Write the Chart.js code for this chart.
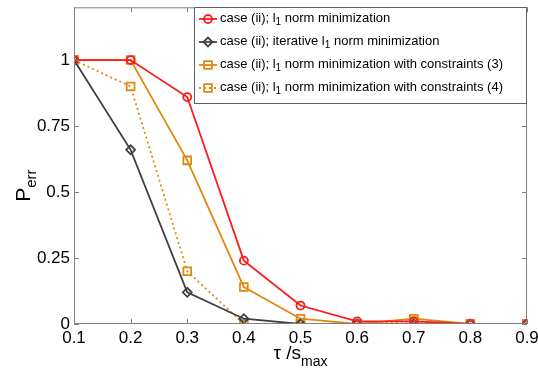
<!DOCTYPE html>
<html>
<head>
<meta charset="utf-8">
<script src="https://cdn.jsdelivr.net/npm/chart.js@4"></script>
<style>
  html, body { margin: 0; padding: 0; background: #fff; }
  #wrap { width: 538px; height: 368px; }
</style>
</head>
<body>
<div id="wrap"><canvas id="chart" width="538" height="368"></canvas></div>
<script>
// x values (tau / s_max)
const tauValues = [0.1, 0.2, 0.3, 0.4, 0.5, 0.6, 0.7, 0.8, 0.9];
const xTicks = [0.1, 0.2, 0.3, 0.4, 0.5, 0.6, 0.7, 0.8, 0.9];
const yTicks = [0, 0.25, 0.5, 0.75, 1];

// P_err for each method
const l1Norm = [1, 1, 0.86, 0.24, 0.07, 0.01, 0.01, 0, 0];
const iterativeL1 = [1, 0.66, 0.12, 0.02, 0, 0, 0, 0, 0];
const l1Constraints3 = [1, 1, 0.62, 0.14, 0.02, 0, 0.02, 0, 0];
const l1Constraints4 = [1, 0.9, 0.2, 0, 0, 0, 0.01, 0, 0];

// legend text pieces: [text, isSubscript]
const legendNames = [
    [['case (ii); l', false], ['1', true], [' norm minimization', false]],
    [['case (ii); iterative l', false], ['1', true], [' norm minimization', false]],
    [['case (ii); l', false], ['1', true], [' norm minimization with constraints (3)', false]],
    [['case (ii); l', false], ['1', true], [' norm minimization with constraints (4)', false]]
];

const RED = '#ff1a1a';
const DARK = '#404040';
const ORANGE = '#e0880f';
const FONT = '"Liberation Sans", Arial, sans-serif';

function toPoints(vals) {
    return vals.map((v, i) => ({ x: tauValues[i], y: v }));
}

function series(vals, color, style, radius, dash) {
    return {
        data: toPoints(vals),
        borderColor: color,
        backgroundColor: 'rgba(0,0,0,0)',
        borderWidth: 1.8,
        borderDash: dash || [],
        pointStyle: style,
        pointRadius: radius,
        pointBorderColor: color,
        pointBackgroundColor: 'rgba(0,0,0,0)',
        pointBorderWidth: 1.8,
        tension: 0
    };
}

const datasets = [
    series(l1Norm, RED, 'circle', 4),
    series(iterativeL1, DARK, 'rectRot', 4.5),
    series(l1Constraints3, ORANGE, 'rect', 5.5),
    series(l1Constraints4, ORANGE, 'rect', 5.5, [2, 3])
];

// draw text with a subscript part
function drawRich(ctx, parts, x, y, size, subSize) {
    let cx = x;
    parts.forEach(([txt, sub]) => {
        ctx.font = (sub ? subSize : size) + 'px ' + FONT;
        ctx.fillText(txt, cx, sub ? y + size * 0.35 : y);
        cx += ctx.measureText(txt).width;
    });
    return cx - x;
}

const framePlugin = {
    id: 'frame',
    afterDraw(chart) {
        const ctx = chart.ctx;
        const a = chart.chartArea;
        const xs = chart.scales.x, ys = chart.scales.y;
        ctx.save();
        ctx.strokeStyle = '#808080';
        ctx.lineWidth = 1;
        ctx.strokeRect(a.left + 0.5, a.top + 0.5, a.right - a.left - 1, a.bottom - a.top - 1);
        ctx.beginPath();
        xTicks.forEach(t => {
            const px = Math.round(xs.getPixelForValue(t)) + 0.5;
            ctx.moveTo(px, a.bottom); ctx.lineTo(px, a.bottom - 5);
            ctx.moveTo(px, a.top); ctx.lineTo(px, a.top + 5);
        });
        yTicks.forEach(t => {
            const py = Math.round(ys.getPixelForValue(t)) + 0.5;
            ctx.moveTo(a.left, py); ctx.lineTo(a.left + 5, py);
            ctx.moveTo(a.right, py); ctx.lineTo(a.right - 5, py);
        });
        ctx.stroke();

        // legend box
        const lx = 194, ly = 7, lw = 332, lh = 96;
        ctx.fillStyle = '#fff';
        ctx.fillRect(lx, ly, lw, lh);
        ctx.strokeStyle = '#606060';
        ctx.strokeRect(lx + 0.5, ly + 0.5, lw, lh);
        const rowY = [19, 42, 65, 88];
        datasets.forEach((ds, i) => {
            const y = rowY[i];
            ctx.save();
            ctx.strokeStyle = ds.borderColor;
            ctx.fillStyle = 'rgba(0,0,0,0)';
            ctx.lineWidth = ds.borderWidth;
            ctx.setLineDash(ds.borderDash);
            ctx.beginPath();
            ctx.moveTo(199, y); ctx.lineTo(217, y);
            ctx.stroke();
            ctx.setLineDash([]);
            Chart.helpers.drawPoint(ctx, {
                pointStyle: ds.pointStyle, radius: ds.pointRadius,
                borderWidth: ds.pointBorderWidth, rotation: 0
            }, 208, y);
            ctx.restore();
            ctx.fillStyle = '#000';
            ctx.textBaseline = 'middle';
            ctx.textAlign = 'left';
            drawRich(ctx, legendNames[i], 220, y - 1, 13, 10);
        });

        // axis titles
        ctx.fillStyle = '#000';
        ctx.textBaseline = 'alphabetic';
        ctx.textAlign = 'left';
        ctx.font = '19px ' + FONT;
        const t1 = 'τ /s';
        const w1 = ctx.measureText(t1).width;
        ctx.font = '14px ' + FONT;
        const w2 = ctx.measureText('max').width;
        let sx = (a.left + a.right) / 2 - (w1 + w2) / 2;
        ctx.font = '19px ' + FONT;
        ctx.fillText(t1, sx, 359);
        ctx.font = '14px ' + FONT;
        ctx.fillText('max', sx + w1, 366);

        ctx.save();
        ctx.translate(30, (a.top + a.bottom) / 2 + 20);
        ctx.rotate(-Math.PI / 2);
        ctx.font = '21px ' + FONT;
        const pw = ctx.measureText('P').width;
        ctx.font = '15px ' + FONT;
        const ew = ctx.measureText('err').width;
        const ox = -(pw + ew) / 2;
        ctx.font = '21px ' + FONT;
        ctx.fillText('P', ox, 0);
        ctx.font = '15px ' + FONT;
        ctx.fillText('err', ox + pw, 6);
        ctx.restore();
        ctx.restore();
    }
};

new Chart(document.getElementById('chart'), {
    type: 'line',
    data: { datasets: datasets },
    options: {
        responsive: false,
        animation: false,
        layout: { padding: { left: 0, top: 4, right: 0, bottom: 0 } },
        plugins: { legend: { display: false }, tooltip: { enabled: false } },
        scales: {
            x: {
                type: 'linear',
                min: 0.1, max: 0.9,
                afterBuildTicks: s => { s.ticks = xTicks.map(v => ({ value: v })); },
                afterFit: s => { s.height = 44; s.paddingRight = 11; s.paddingLeft = 0; },
                grid: { display: false, drawTicks: false },
                border: { display: false },
                ticks: {
                    color: '#000', padding: 4,
                    font: { family: FONT, size: 17 },
                    maxRotation: 0,
                    callback: v => String(v)
                }
            },
            y: {
                type: 'linear',
                min: 0, max: 1.2,
                afterBuildTicks: s => { s.ticks = yTicks.map(v => ({ value: v })); },
                afterFit: s => { s.width = 74; s.paddingTop = 0; s.paddingBottom = 0; },
                grid: { display: false, drawTicks: false },
                border: { display: false },
                ticks: {
                    color: '#000', padding: 4,
                    font: { family: FONT, size: 17 },
                    callback: v => String(v)
                }
            }
        }
    },
    plugins: [framePlugin]
});
</script>
</body>
</html>
